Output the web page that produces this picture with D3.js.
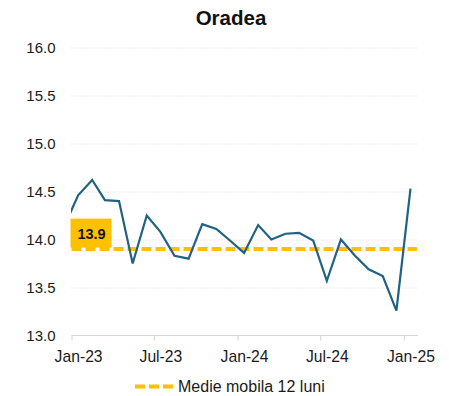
<!DOCTYPE html>
<html>
<head>
<meta charset="utf-8">
<script src="https://cdn.jsdelivr.net/npm/d3@7/dist/d3.min.js"></script>
<style>
  html, body { margin: 0; padding: 0; background: #fff; }
  svg { display: block; font-family: "Liberation Sans", Arial, sans-serif; }
</style>
</head>
<body>
<svg id="chart" width="449" height="396"></svg>
<script>
// Monthly series, Dec-22 .. Jan-25 (Dec-22 only lead-in, clipped at the left edge)
const months = [
  "2022-12", "2023-01", "2023-02", "2023-03", "2023-04", "2023-05", "2023-06",
  "2023-07", "2023-08", "2023-09", "2023-10", "2023-11", "2023-12",
  "2024-01", "2024-02", "2024-03", "2024-04", "2024-05", "2024-06",
  "2024-07", "2024-08", "2024-09", "2024-10", "2024-11", "2024-12",
  "2025-01"
];
const values = [
  14.13, 14.46, 14.62, 14.41, 14.40, 13.75, 14.25,
  14.08, 13.83, 13.80, 14.16, 14.11, 13.99,
  13.86, 14.15, 14.00, 14.06, 14.07, 13.99,
  13.57, 14.00, 13.83, 13.69, 13.62, 13.26,
  14.53
];
const movingAvg = 13.9;
const movingAvgLabel = "13.9";
const yTicks = [13.0, 13.5, 14.0, 14.5, 15.0, 15.5, 16.0];
const xTickMonths = ["2023-01", "2023-07", "2024-01", "2024-07", "2025-01"];
const xTickLabels = ["Jan-23", "Jul-23", "Jan-24", "Jul-24", "Jan-25"];
const title = "Oradea";
const legendLabel = "Medie mobila 12 luni";

const lineColor = "#1f6282";
const avgColor = "#ffc000";
const gridColor = "#d4d4d4";
const textColor = "#1a1a1a";
const fontFamily = "Liberation Sans, Arial, sans-serif";

const svg = d3.select("#chart");
const plotLeft = 71.5, plotRight = 418, plotTop = 47.5, plotBottom = 335.5;

const monthStart = s => new Date(s + "-01T00:00:00Z");
const midMonth = s => new Date(s + "-15T12:00:00Z");

const x = d3.scaleUtc()
  .domain([monthStart("2023-01"), monthStart("2025-02")])
  .range([plotLeft, plotRight]);
const y = d3.scaleLinear().domain([13, 16]).range([plotBottom, plotTop]);

// Title
svg.append("text")
  .attr("x", 231).attr("y", 25)
  .attr("text-anchor", "middle")
  .attr("font-size", 20.5).attr("font-weight", "bold")
  .attr("fill", "#111")
  .text(title);

// Horizontal dotted gridlines + y labels
const yAxis = d3.axisLeft(y).tickValues(yTicks).tickFormat(d3.format(".1f"))
  .tickSize(-(plotRight - 1 - plotLeft)).tickPadding(16);
const gy = svg.append("g").attr("transform", `translate(${plotLeft},0)`).call(yAxis);
gy.select(".domain").remove();
gy.selectAll(".tick line")
  .attr("stroke", gridColor).attr("stroke-dasharray", "1,2")
  .filter(d => d === 13).remove();
gy.selectAll(".tick text")
  .attr("font-size", 15).attr("fill", textColor)
  .attr("font-family", fontFamily);

// X axis: ticks at month boundaries, labels centred on the month
const xAxis = d3.axisBottom(x)
  .tickValues(xTickMonths.map(monthStart))
  .tickSize(5).tickPadding(0)
  .tickFormat((d, i) => xTickLabels[i]);
const gx = svg.append("g").attr("transform", `translate(0,${plotBottom})`).call(xAxis);
gx.select(".domain").attr("stroke", gridColor).attr("d", `M${plotLeft},0H${plotRight}`);
gx.selectAll(".tick line").attr("stroke", gridColor);
gx.selectAll(".tick text")
  .attr("font-size", 15.7).attr("fill", textColor)
  .attr("font-family", fontFamily)
  .attr("dy", null).attr("y", 26.5)
  .attr("x", (d, i) => x(midMonth(xTickMonths[i])) - x(monthStart(xTickMonths[i])));

// Clip region for the series
svg.append("clipPath").attr("id", "plot-clip")
  .append("rect").attr("x", plotLeft - 0.5).attr("y", 0)
  .attr("width", plotRight - plotLeft + 1).attr("height", plotBottom + 2);

// Moving-average label box
const yAvg = y(movingAvg);
svg.append("rect")
  .attr("x", plotLeft - 1).attr("y", yAvg - 30.5)
  .attr("width", 41).attr("height", 29)
  .attr("fill", avgColor);
svg.append("text")
  .attr("x", plotLeft + 20).attr("y", yAvg - 10)
  .attr("text-anchor", "middle")
  .attr("font-size", 14.5).attr("font-weight", "bold").attr("fill", "#111")
  .text(movingAvgLabel);

// Moving-average dashed line
svg.append("line")
  .attr("x1", plotLeft).attr("x2", plotRight - 1)
  .attr("y1", yAvg).attr("y2", yAvg)
  .attr("stroke", avgColor).attr("stroke-width", 4)
  .attr("stroke-dasharray", "10,4");

// Series line
const series = months.map((m, i) => ({ date: midMonth(m), value: values[i] }));
svg.append("path")
  .datum(series)
  .attr("clip-path", "url(#plot-clip)")
  .attr("fill", "none")
  .attr("stroke", lineColor)
  .attr("stroke-width", 2.2)
  .attr("stroke-linejoin", "miter")
  .attr("d", d3.line().x(d => x(d.date)).y(d => y(d.value)));

// Legend
const lg = svg.append("g").attr("transform", "translate(135,386.5)");
lg.append("line")
  .attr("x1", 0).attr("x2", 38).attr("y1", 0).attr("y2", 0)
  .attr("stroke", avgColor).attr("stroke-width", 4)
  .attr("stroke-dasharray", "10,4");
lg.append("text")
  .attr("x", 43).attr("y", 5.5)
  .attr("font-size", 16).attr("fill", textColor)
  .text(legendLabel);
</script>
</body>
</html>
